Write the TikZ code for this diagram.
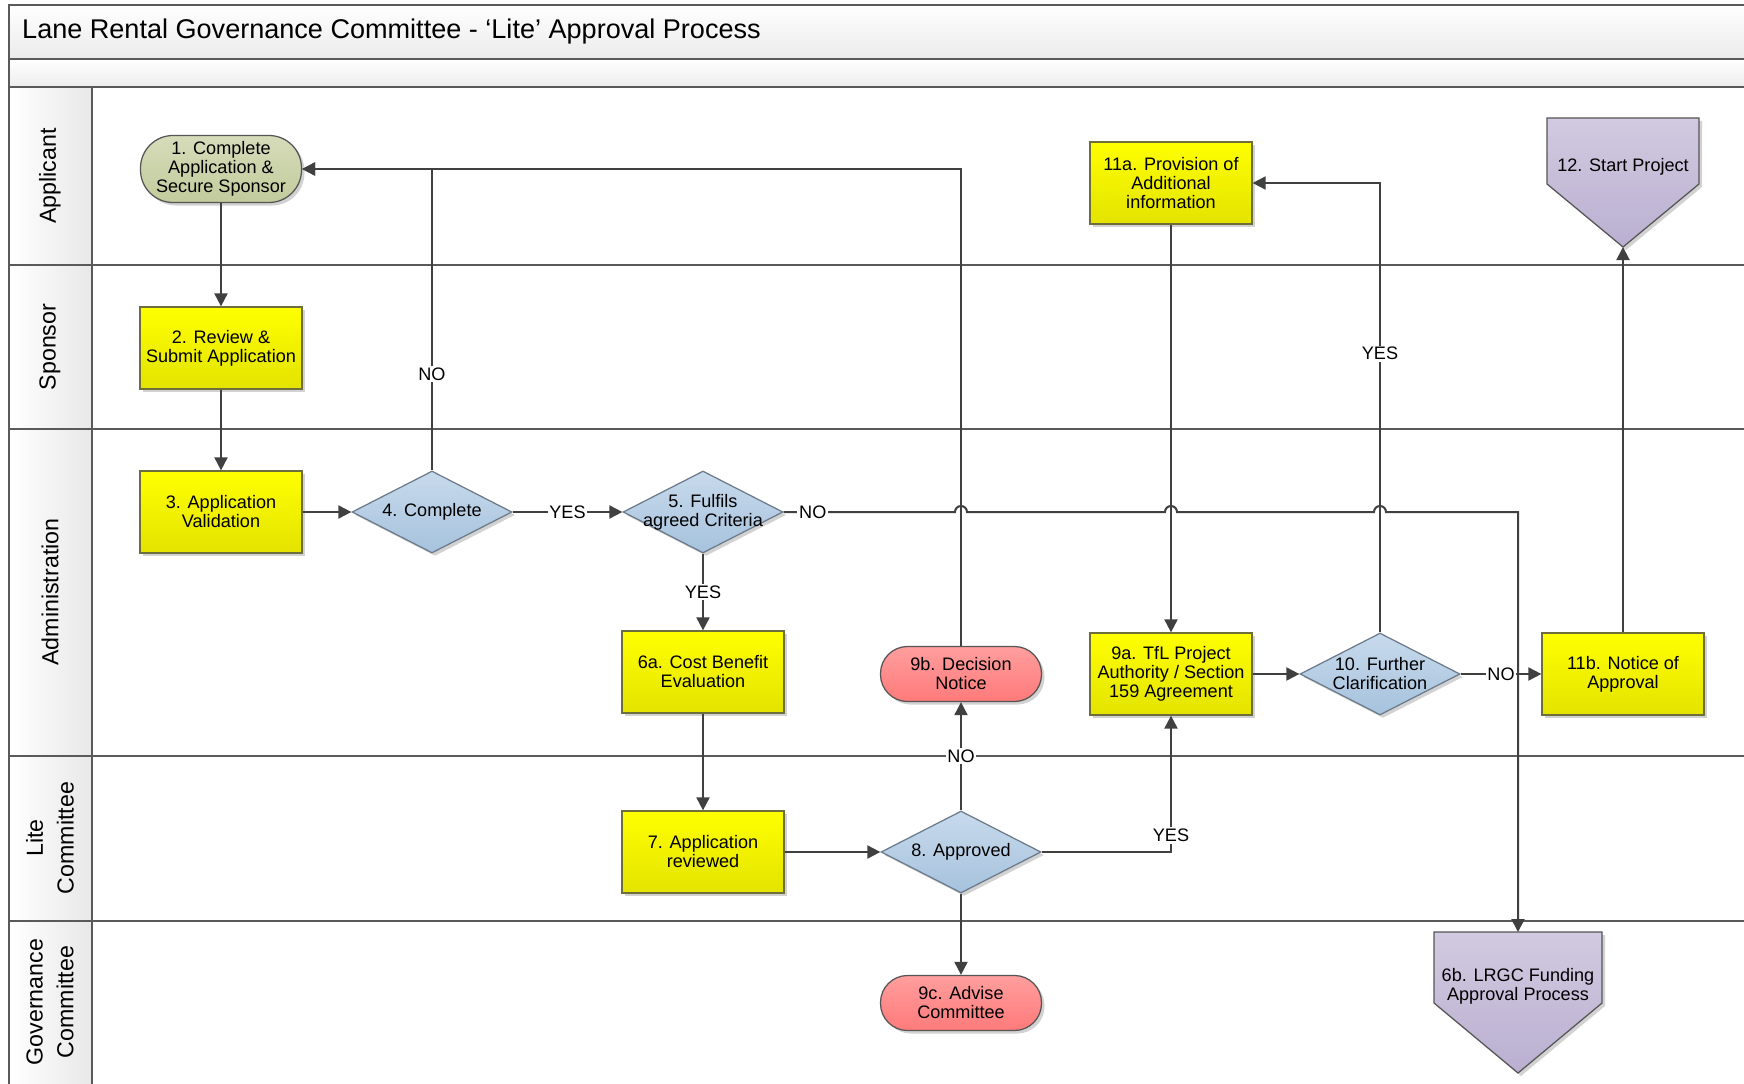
\documentclass[tikz,border=0pt]{standalone}
\usepackage{fontspec}
\setmainfont{Liberation Sans}
\usetikzlibrary{arrows.meta,calc,shapes.geometric,shadows}

\definecolor{frameline}{HTML}{5A5A5A}
\definecolor{flowline}{HTML}{404040}
\definecolor{taskhi}{HTML}{FFFF00}
\definecolor{tasklo}{HTML}{E3E300}
\definecolor{taskline}{HTML}{6E6E3C}
\definecolor{dechi}{HTML}{C8DAEC}
\definecolor{declo}{HTML}{A6C2DD}
\definecolor{decline}{HTML}{6B7B8C}
\definecolor{greenhi}{HTML}{D6DCBA}
\definecolor{greenlo}{HTML}{C2CB9C}
\definecolor{redhi}{HTML}{FF9E9E}
\definecolor{redlo}{HTML}{FF7A7A}
\definecolor{lilachi}{HTML}{D2CAE0}
\definecolor{lilaclo}{HTML}{BAAFD1}
\definecolor{termline}{HTML}{555555}

\newcommand{\boxfont}{\fontsize{10.3}{10.8}\selectfont}
\newcommand{\lanefont}{\fontsize{13.2}{17.5}\selectfont}
\newcommand{\titlefont}{\fontsize{15.4}{18}\selectfont}

\tikzset{
  lane/.style={draw=frameline, line width=0.35mm},
  flow/.style={draw=flowline, line width=0.4mm, -{Triangle[length=2.6mm,width=2.6mm]}},
  lbl/.style={fill=white, inner sep=1pt, font=\boxfont},
  txt/.style={align=center, font=\boxfont, text=black},
  shadowed/.style={drop shadow={shadow xshift=0.6mm,shadow yshift=-0.6mm,fill=black!25,opacity=0.7}},
  task/.style={rectangle, draw=taskline, line width=0.25mm, top color=taskhi, bottom color=tasklo,
    minimum width=32.4mm, minimum height=16.4mm, inner sep=1pt, txt, shadowed},
  decision/.style={diamond, draw=decline, line width=0.25mm, top color=dechi, bottom color=declo,
    minimum width=32mm, minimum height=16.4mm, inner sep=0pt, shadowed},
  inside/.style={label={[txt]center:{#1}}},
  terminal/.style={rectangle, rounded corners=#1, draw=termline, line width=0.25mm,
    minimum width=32.2mm, inner sep=1pt, txt, shadowed},
  greenterm/.style={terminal=6.5mm, top color=greenhi, bottom color=greenlo, minimum height=13.4mm},
  redterm/.style={terminal=5.4mm, top color=redhi, bottom color=redlo, minimum height=11mm},
  offpage/.style={draw=termline, line width=0.25mm, top color=lilachi, bottom color=lilaclo, shadowed},
  lanename/.style={rotate=90, align=center, font=\lanefont},
}

\begin{document}
\begin{tikzpicture}[x=0.2mm, y=-0.2mm]
  % page size of the reference (pixels)
  \useasboundingbox (0,0) rectangle (1744,1084);
  % title bands and lane header column
  \shade[top color=white, bottom color=black!8] (9,5) rectangle (1744,59);
  \shade[top color=white, bottom color=black!7] (9,59) rectangle (1744,87);
  \shade[left color=white, right color=black!9] (9,87) rectangle (92,1084);
  % frame and lane lines
  \draw[lane] (1744,5) -- (9,5) -- (9,1084);
  \draw[lane] (92,87) -- (92,1084);
  \foreach \y in {59,87,265,429,756,921}
    \draw[lane] (9,\y) -- (1744,\y);
  \node[anchor=west, font=\titlefont] (title) at (16,32) {Lane Rental Governance Committee - ‘Lite’ Approval Process};

  % lane names
  \node[lanename] (lapp)  at (50,176)  {Applicant};
  \node[lanename] (lspo)  at (50,347)  {Sponsor};
  \node[lanename] (ladm)  at (50,592)  {Administration};
  \node[lanename] (llite) at (50,838)  {Lite\\Committee};
  \node[lanename] (lgov)  at (50,1002) {Governance\\Committee};

  % process steps
  \node[greenterm] (n1) at (221,169) {1. Complete\\Application \&\\Secure Sponsor};
  \node[task] (n2) at (221,348) {2. Review \&\\Submit Application};
  \node[task] (n3) at (221,512) {3. Application\\Validation};
  \node[decision, inside={4. Complete}] (n4) at (432,512) {};
  \node[decision, inside={5. Fulfils\\agreed Criteria}] (n5) at (703,512) {};
  \node[task] (n6a) at (703,672) {6a. Cost Benefit\\Evaluation};
  \node[task] (n7) at (703,852) {7. Application\\reviewed};
  \node[decision, inside={8. Approved}] (n8) at (961,852) {};
  \node[redterm] (n9b) at (961,674) {9b. Decision\\Notice};
  \node[redterm] (n9c) at (961,1003) {9c. Advise\\Committee};
  \node[task] (n9a) at (1171,674) {9a. TfL Project\\Authority / Section\\159 Agreement};
  \node[decision, inside={10. Further\\Clarification}] (n10) at (1380,674) {};
  \node[task] (n11b) at (1623,674) {11b. Notice of\\Approval};
  \node[task] (n11a) at (1171,183) {11a. Provision of\\Additional\\information};

  % off-page connectors
  \path[offpage] (1547,118) -- (1699,118) -- (1699,184) -- (1623,247) -- (1547,184) -- cycle;
  \node[txt] (n12) at (1623,167) {12. Start Project};
  \coordinate (n12tip) at (1623,247);
  \path[offpage] (1434,932) -- (1602,932) -- (1602,1003) -- (1518,1073) -- (1434,1003) -- cycle;
  \node[txt] (n6b) at (1518,986) {6b. LRGC Funding\\Approval Process};
  \coordinate (n6btop) at (1518,932);

  % connectors
  \draw[flow] (n1) -- (n2);
  \draw[flow] (n2) -- (n3);
  \draw[flow] (n3) -- (n4);
  \draw[flow] (n4) -- node[lbl] {YES} (n5);
  \draw[flow] (n4.north) |- node[lbl, pos=0.16] {NO} (n1.east);
  \draw[flow] (n9b.north) |- (n1.east);
  % NO branch, hopping over the vertical lines
  \draw[flow] (n5.east) -- node[lbl, pos=0.17] {NO} (955,512)
    arc[start angle=180, end angle=0, radius=1.2mm] -- (1165,512)
    arc[start angle=180, end angle=0, radius=1.2mm] -- (1374,512)
    arc[start angle=180, end angle=0, radius=1.2mm] -- (1518,512) -- (n6btop);
  \draw[flow] (n5) -- node[lbl] {YES} (n6a);
  \draw[flow] (n6a) -- (n7);
  \draw[flow] (n7) -- (n8);
  \draw[flow] (n8) -- node[lbl] {NO} (n9b);
  \draw[flow] (n8) -- (n9c);
  \draw[flow] (n8.east) -| node[lbl, pos=0.56] {YES} (n9a.south);
  \draw[flow] (n11a) -- (n9a);
  \draw[flow] (n9a) -- (n10);
  \draw[flow] (n10.north) |- node[lbl, pos=0.31] {YES} (n11a.east);
  \draw[flow] (n10) -- node[lbl] {NO} (n11b);
  \draw[flow] (n11b) -- (n12tip);
\end{tikzpicture}
\end{document}
